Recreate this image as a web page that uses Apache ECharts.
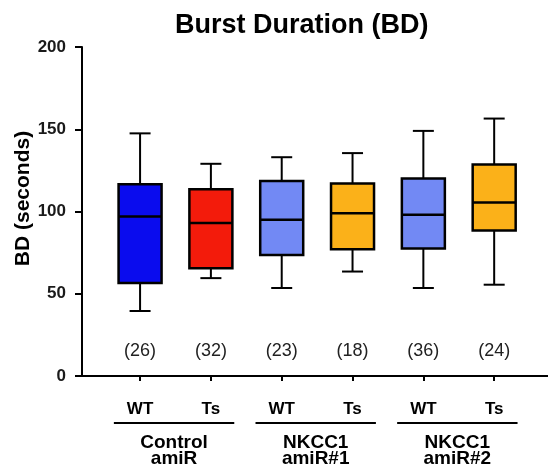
<!DOCTYPE html>
<html>
<head>
<meta charset="utf-8">
<script src="https://cdn.jsdelivr.net/npm/echarts@6/dist/echarts.min.js"></script>
<style>
  html, body { margin: 0; padding: 0; background: #fff; }
  #chart { width: 548px; height: 476px; }
</style>
</head>
<body>
<div id="chart"></div>
<script>
// data
const genotypes = ['WT', 'Ts', 'WT', 'Ts', 'WT', 'Ts'];
const groupNames = ['Control\namiR', 'NKCC1\namiR#1', 'NKCC1\namiR#2'];
const boxMin = [39.5, 59.5, 53.5, 63.5, 53.5, 55.5];
const boxQ1 = [56.5, 65.5, 73.5, 77, 77.5, 88.5];
const boxMedian = [97, 93, 95, 99, 98, 105.5];
const boxQ3 = [116.5, 113.5, 118.5, 117, 120, 128.5];
const boxMax = [147.5, 129, 133, 135.5, 149, 156.5];
const counts = [26, 32, 23, 18, 36, 24];
const boxColors = ['#0a0cee', '#f31b0b', '#7289f4', '#fbb119', '#7289f4', '#fbb119'];
const yTicks = [0, 50, 100, 150, 200];
const countLevel = 15;

const FONT = 'Liberation Sans, Arial, sans-serif';

const boxData = genotypes.map((g, i) => [i, boxMin[i], boxQ1[i], boxMedian[i], boxQ3[i], boxMax[i], counts[i]]);
const groupData = groupNames.map((n, i) => [i * 2, i * 2 + 1, i]);

const chart = echarts.init(document.getElementById('chart'));

const option = {
  animation: false,
  backgroundColor: '#fff',
  title: {
    text: 'Burst Duration (BD)',
    left: 170,
    top: 7,
    textStyle: { fontFamily: FONT, fontSize: 27, fontWeight: 'bold', color: '#000' },
  },
  grid: { left: 82, right: 0, top: 47, bottom: 100, outerBoundsMode: 'none' },
  xAxis: {
    type: 'value',
    min: -0.82,
    max: 5.76,
    splitLine: { show: false },
    axisLine: { onZero: false, lineStyle: { color: '#000', width: 2 } },
    axisTick: { show: true, customValues: [0, 1, 2, 3, 4, 5], length: 5, lineStyle: { color: '#000', width: 2 } },
    axisLabel: {
      customValues: [0, 1, 2, 3, 4, 5],
      formatter: (v) => genotypes[Math.round(v)],
      margin: 25,
      fontFamily: FONT,
      fontSize: 17,
      fontWeight: 'bold',
      color: '#000',
    },
  },
  yAxis: {
    type: 'value',
    min: 0,
    max: 200,
    interval: 50,
    name: 'BD (seconds)',
    nameLocation: 'middle',
    nameGap: 48,
    nameMoveOverlap: false,
    nameTextStyle: { fontFamily: FONT, fontSize: 21, fontWeight: 'bold', color: '#000', padding: [0, 0, 0, 26] },
    splitLine: { show: false },
    axisLine: { show: true, onZero: false, lineStyle: { color: '#000', width: 2 } },
    axisTick: { show: true, length: 7, lineStyle: { color: '#000', width: 2 } },
    axisLabel: {
      margin: 16,
      fontFamily: FONT,
      fontSize: 17,
      fontWeight: 'bold',
      color: '#1a1a1a',
      formatter: (v) => (yTicks.includes(v) ? String(v) : ''),
    },
  },
  series: [
    {
      type: 'custom',
      name: 'boxes',
      data: boxData,
      encode: { x: 0, y: [1, 2, 3, 4, 5] },
      renderItem: (params, api) => {
        const i = api.value(0);
        const cx = api.coord([i, 0])[0];
        const yMin = api.coord([i, api.value(1)])[1];
        const yQ1 = api.coord([i, api.value(2)])[1];
        const yMed = api.coord([i, api.value(3)])[1];
        const yQ3 = api.coord([i, api.value(4)])[1];
        const yMax = api.coord([i, api.value(5)])[1];
        const yCount = api.coord([i, countLevel])[1];
        const half = 21.5;
        const cap = 10.5;
        const ls = { stroke: '#000', lineWidth: 2 };
        return {
          type: 'group',
          children: [
            { type: 'line', shape: { x1: cx, y1: yMax, x2: cx, y2: yQ3 }, style: ls },
            { type: 'line', shape: { x1: cx, y1: yQ1, x2: cx, y2: yMin }, style: ls },
            { type: 'line', shape: { x1: cx - cap, y1: yMax, x2: cx + cap, y2: yMax }, style: ls },
            { type: 'line', shape: { x1: cx - cap, y1: yMin, x2: cx + cap, y2: yMin }, style: ls },
            {
              type: 'rect',
              shape: { x: cx - half, y: yQ3, width: half * 2, height: yQ1 - yQ3 },
              style: { fill: boxColors[params.dataIndex], stroke: '#000', lineWidth: 2.5 },
            },
            { type: 'line', shape: { x1: cx - half, y1: yMed, x2: cx + half, y2: yMed }, style: { stroke: '#000', lineWidth: 2.5 } },
            {
              type: 'text',
              x: cx,
              y: yCount,
              style: {
                text: '(' + api.value(6) + ')',
                textAlign: 'center',
                textVerticalAlign: 'middle',
                fontFamily: FONT,
                fontSize: 18,
                fill: '#222',
              },
            },
          ],
        };
      },
    },
    {
      type: 'custom',
      name: 'groups',
      data: groupData,
      clip: false,
      encode: { x: [0, 1] },
      renderItem: (params, api) => {
        const x1 = api.coord([api.value(0) - 0.37, 0]);
        const x2 = api.coord([api.value(1) + 0.33, 0]);
        const base = x1[1];
        const mid = (x1[0] + x2[0]) / 2;
        return {
          type: 'group',
          children: [
            { type: 'line', shape: { x1: x1[0], y1: base + 47, x2: x2[0], y2: base + 47 }, style: { stroke: '#000', lineWidth: 2 } },
            {
              type: 'text',
              x: mid,
              y: base + 59,
              style: {
                text: groupNames[api.value(2)],
                textAlign: 'center',
                textVerticalAlign: 'top',
                fontFamily: FONT,
                fontSize: 19,
                fontWeight: 'bold',
                lineHeight: 16,
                fill: '#000',
              },
            },
          ],
        };
      },
    },
  ],
};

chart.setOption(option);
</script>
</body>
</html>
